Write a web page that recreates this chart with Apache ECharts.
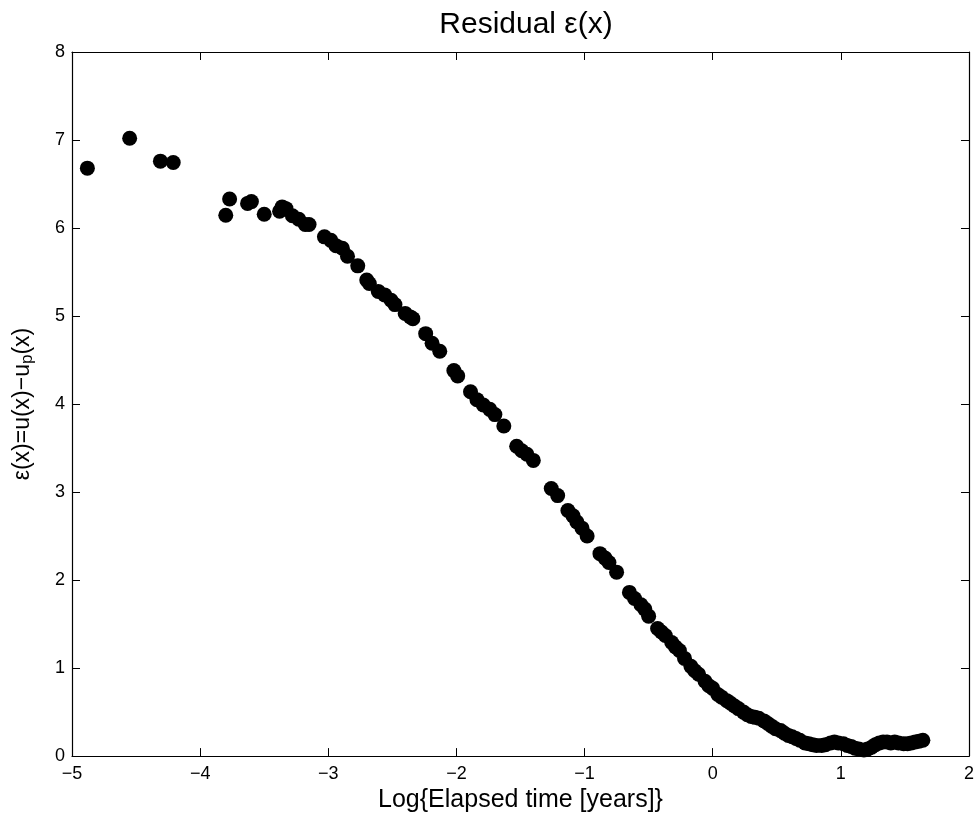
<!DOCTYPE html>
<html>
<head>
<meta charset="utf-8">
<script src="https://cdn.jsdelivr.net/npm/echarts@6/dist/echarts.min.js"></script>
<style>
html,body{margin:0;padding:0;background:#fff;}
#chart{width:977px;height:818px;}
</style>
</head>
<body>
<div id="chart"></div>
<script>
var logTime = [-4.88,-4.55,-4.31,-4.21,-3.80,-3.77,-3.63,-3.60,-3.50,-3.38,-3.36,-3.33,-3.28,-3.23,-3.18,-3.15,-3.03,-2.98,-2.94,-2.89,-2.85,-2.77,-2.70,-2.68,-2.61,-2.56,-2.51,-2.48,-2.40,-2.36,-2.34,-2.24,-2.19,-2.13,-2.02,-1.99,-1.89,-1.84,-1.79,-1.74,-1.70,-1.63,-1.53,-1.49,-1.45,-1.40,-1.26,-1.21,-1.13,-1.09,-1.06,-1.02,-0.98,-0.88,-0.84,-0.81,-0.75,-0.65,-0.61,-0.56,-0.53,-0.50,-0.43,-0.40,-0.37,-0.32,-0.29,-0.26,-0.22,-0.17,-0.14,-0.11,-0.06,-0.03,0.00,0.04,0.07,0.11,0.14,0.17,0.20,0.24,0.27,0.30,0.33,0.36,0.40,0.43,0.46,0.49,0.53,0.56,0.59,0.62,0.65,0.68,0.72,0.75,0.78,0.81,0.85,0.88,0.92,0.95,0.98,1.02,1.05,1.08,1.11,1.14,1.18,1.21,1.24,1.27,1.30,1.33,1.36,1.39,1.42,1.45,1.49,1.52,1.55,1.58,1.61,1.64];
var residual = [6.68,7.02,6.76,6.745,6.145,6.33,6.28,6.30,6.156,6.19,6.24,6.22,6.14,6.10,6.04,6.04,5.90,5.86,5.80,5.77,5.68,5.57,5.41,5.37,5.28,5.24,5.18,5.13,5.03,4.99,4.97,4.80,4.69,4.60,4.38,4.32,4.14,4.05,3.99,3.94,3.88,3.75,3.52,3.47,3.43,3.36,3.04,2.96,2.79,2.73,2.66,2.59,2.50,2.30,2.25,2.20,2.09,1.86,1.79,1.72,1.67,1.59,1.45,1.41,1.37,1.29,1.24,1.20,1.11,1.02,0.97,0.93,0.85,0.80,0.77,0.70,0.67,0.63,0.60,0.57,0.54,0.50,0.47,0.45,0.44,0.43,0.40,0.37,0.34,0.31,0.29,0.26,0.235,0.22,0.20,0.18,0.15,0.14,0.13,0.12,0.12,0.13,0.15,0.16,0.15,0.14,0.12,0.11,0.09,0.08,0.07,0.08,0.10,0.13,0.15,0.16,0.16,0.15,0.16,0.15,0.14,0.14,0.15,0.16,0.17,0.18];
var xTicks = [-5,-4,-3,-2,-1,0,1,2];
var yTicks = [0,1,2,3,4,5,6,7,8];

var FONT = '"Liberation Sans", Arial, Helvetica, sans-serif';
var pts = logTime.map(function(x,i){return [x, residual[i]];});

function mirrorX(pos, show){
  return {
    type:'value', position:pos, min:xTicks[0], max:xTicks[xTicks.length-1], interval:1,
    axisLine:{show:true, onZero:false, lineStyle:{color:'#000', width:1.2}},
    axisTick:{show:true, inside:true, length:8, lineStyle:{color:'#000', width:1}},
    axisLabel:{show:show, margin:9, color:'#000', fontSize:18, fontFamily:FONT,
      formatter:function(v){return v<0 ? '\u2212'+Math.abs(v) : String(v);}},
    splitLine:{show:false}
  };
}
function mirrorY(pos, show){
  return {
    type:'value', position:pos, min:yTicks[0], max:yTicks[yTicks.length-1], interval:1,
    axisLine:{show:true, onZero:false, lineStyle:{color:'#000', width:1.2}},
    axisTick:{show:true, inside:true, length:8, lineStyle:{color:'#000', width:1}},
    axisLabel:{show:show, margin:7, color:'#000', fontSize:18, fontFamily:FONT},
    splitLine:{show:false}
  };
}

var xa0 = mirrorX('bottom', true);
xa0.name = 'Log{Elapsed time [years]}';
xa0.nameLocation = 'middle';
xa0.nameGap = 27;
xa0.nameTextStyle = {color:'#000', fontSize:25, fontFamily:FONT};
var xa1 = mirrorX('top', false);

var ya0 = mirrorY('left', true);
ya0.name = '{n|\u03B5(x)=u(x)\u2212u}{s|p}{n|(x)}';
ya0.nameLocation = 'middle';
ya0.nameGap = 36;
ya0.nameRotate = 90;
ya0.nameTextStyle = {color:'#000', fontFamily:FONT, fontSize:23,
  rich:{
    n:{fontSize:23, fontFamily:FONT, color:'#000'},
    s:{fontSize:17, fontFamily:FONT, color:'#000', verticalAlign:'bottom', padding:[10,0,0,0]}
  }};
var ya1 = mirrorY('right', false);

var chart = echarts.init(document.getElementById('chart'), null, {renderer:'canvas'});
chart.setOption({
  backgroundColor:'#fff',
  animation:false,
  title:{text:'Residual \u03B5(x)', left:521, textAlign:'center', top:5,
    textStyle:{color:'#000', fontSize:30, fontWeight:'normal', fontFamily:FONT}},
  grid:{left:72, right:7, top:52, bottom:59, containLabel:false},
  xAxis:[xa0, xa1],
  yAxis:[ya0, ya1],
  series:[{
    type:'scatter', xAxisIndex:0, yAxisIndex:0,
    symbol:'circle', symbolSize:15,
    itemStyle:{color:'#000', opacity:1},
    data:pts
  }]
});
</script>
</body>
</html>
